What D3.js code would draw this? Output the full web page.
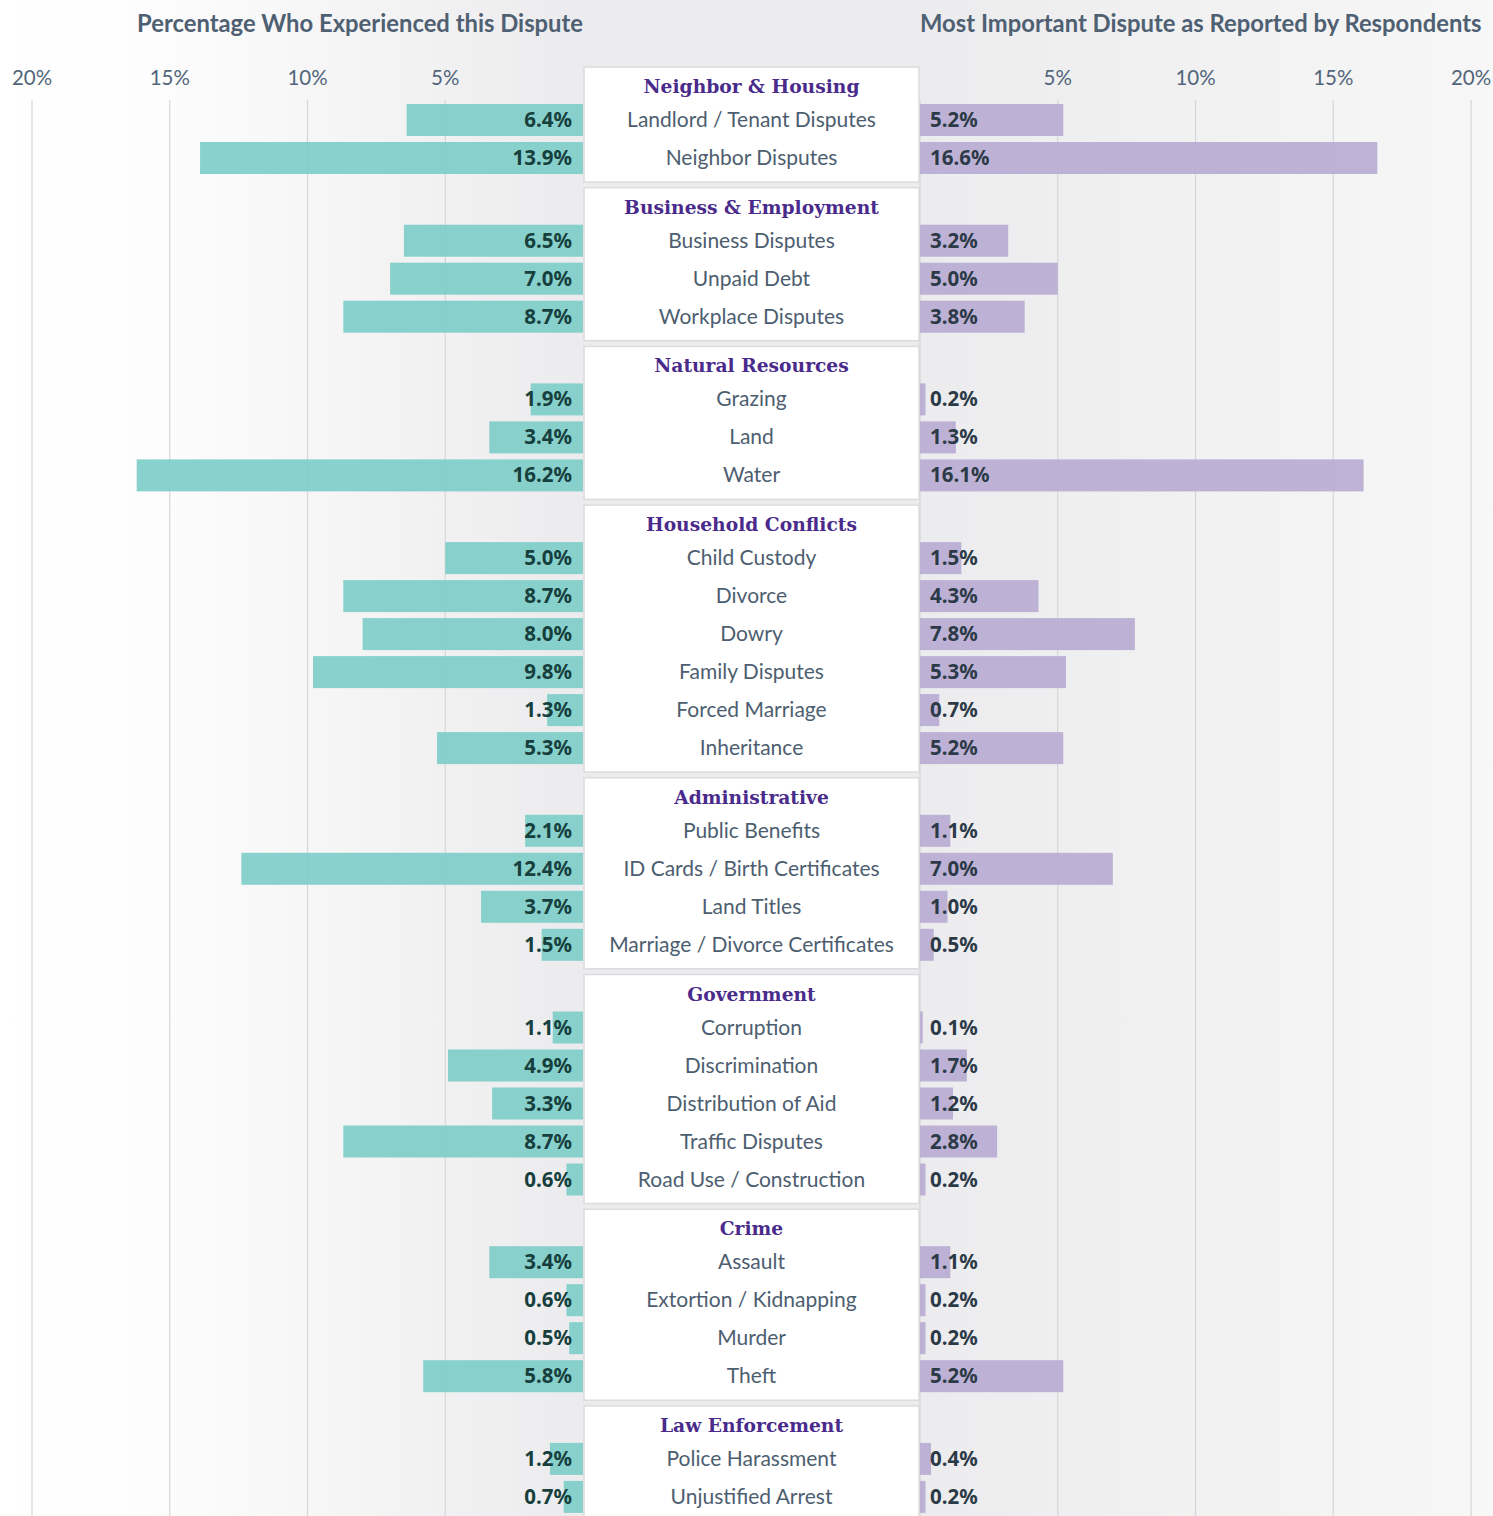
<!DOCTYPE html>
<html>
<head>
<meta charset="utf-8">
<script src="https://cdn.jsdelivr.net/npm/d3@7"></script>
<style>
  body { margin: 0; background: #fff; }
  svg { display: block; }
</style>
</head>
<body>
<svg id="chart"></svg>
<script>
// Groups and their categories
const groups = ["Neighbor & Housing", "Business & Employment", "Natural Resources", "Household Conflicts",
    "Administrative", "Government", "Crime", "Law Enforcement"];
const categories = [
    ["Landlord / Tenant Disputes", "Neighbor Disputes"],
    ["Business Disputes", "Unpaid Debt", "Workplace Disputes"],
    ["Grazing", "Land", "Water"],
    ["Child Custody", "Divorce", "Dowry", "Family Disputes", "Forced Marriage", "Inheritance"],
    ["Public Benefits", "ID Cards / Birth Certificates", "Land Titles", "Marriage / Divorce Certificates"],
    ["Corruption", "Discrimination", "Distribution of Aid", "Traffic Disputes", "Road Use / Construction"],
    ["Assault", "Extortion / Kidnapping", "Murder", "Theft"],
    ["Police Harassment", "Unjustified Arrest"]
];
// Percentage who experienced this dispute
const experienced = [
    [6.4, 13.9],
    [6.5, 7.0, 8.7],
    [1.9, 3.4, 16.2],
    [5.0, 8.7, 8.0, 9.8, 1.3, 5.3],
    [2.1, 12.4, 3.7, 1.5],
    [1.1, 4.9, 3.3, 8.7, 0.6],
    [3.4, 0.6, 0.5, 5.8],
    [1.2, 0.7]
];
// Most important dispute as reported
const important = [
    [5.2, 16.6],
    [3.2, 5.0, 3.8],
    [0.2, 1.3, 16.1],
    [1.5, 4.3, 7.8, 5.3, 0.7, 5.2],
    [1.1, 7.0, 1.0, 0.5],
    [0.1, 1.7, 1.2, 2.8, 0.2],
    [1.1, 0.2, 0.2, 5.2],
    [0.4, 0.2]
];
const ticks = [5, 10, 15, 20];

const width = 1493, height = 1516;
const boxLeft = 584, boxRight = 919;
const rowH = 38, barH = 32, groupGap = 44.7;

const svg = d3.select("#chart").attr("width", width).attr("height", height);

// background gradient
const defs = svg.append("defs");
const grad = defs.append("linearGradient").attr("id", "bg").attr("x1", 0).attr("x2", 1).attr("y1", 0).attr("y2", 0);
grad.append("stop").attr("offset", "0%").attr("stop-color", "#ffffff");
grad.append("stop").attr("offset", "10%").attr("stop-color", "#fdfdfd");
grad.append("stop").attr("offset", "38%").attr("stop-color", "#ececee");
grad.append("stop").attr("offset", "62%").attr("stop-color", "#ececee");
grad.append("stop").attr("offset", "100%").attr("stop-color", "#f7f7f7");
svg.append("rect").attr("width", width).attr("height", height).attr("fill", "url(#bg)");

var xLeft = d3.scaleLinear().domain([0, 20]).range([583, 32]);
var xRight = d3.scaleLinear().domain([0, 20]).range([920, 1471]);

// layout of groups and rows
const layout = [];
let boxTop = 67;
groups.forEach((g, gi) => {
    const n = categories[gi].length;
    const rows = categories[gi].map((c, i) => ({
        name: c, y: boxTop + 53 + i * rowH, left: experienced[gi][i], right: important[gi][i]
    }));
    layout.push({ name: g, top: boxTop, bottom: boxTop + 39 + n * rowH, rows: rows });
    boxTop += groupGap + n * rowH;
});
const allRows = layout.flatMap(d => d.rows);

// grid lines
svg.append("g").selectAll("line")
    .data(ticks)
    .enter().append("line")
    .attr("x1", d => xLeft(d)).attr("x2", d => xLeft(d))
    .attr("y1", 100).attr("y2", height)
    .attr("stroke", "#d6d6d8").attr("stroke-width", 1.2);
svg.append("g").selectAll("line")
    .data([0].concat(ticks))
    .enter().append("line")
    .attr("x1", d => xRight(d)).attr("x2", d => xRight(d))
    .attr("y1", 100).attr("y2", height)
    .attr("stroke", "#d6d6d8").attr("stroke-width", 1.2);

// tick labels
const tickStyle = sel => sel.attr("y", 85).attr("text-anchor", "middle")
    .style("font-family", "Lato, 'Open Sans', sans-serif").style("font-size", "20.5px").style("fill", "#52657a");
svg.append("g").selectAll("text").data(ticks).enter().append("text")
    .attr("x", d => xLeft(d)).call(tickStyle).text(d => d + "%");
svg.append("g").selectAll("text").data(ticks).enter().append("text")
    .attr("x", d => xRight(d)).call(tickStyle).text(d => d + "%");

// titles
svg.append("text").attr("x", 583).attr("y", 32).attr("text-anchor", "end")
    .style("font-family", "Lato, sans-serif").style("font-weight", "bold").style("font-size", "23.8px")
    .style("fill", "#4e6072").text("Percentage Who Experienced this Dispute");
svg.append("text").attr("x", 920).attr("y", 32).attr("text-anchor", "start")
    .style("font-family", "Lato, sans-serif").style("font-weight", "bold").style("font-size", "23.8px")
    .style("fill", "#4e6072").text("Most Important Dispute as Reported by Respondents");

// bars
svg.append("g").selectAll("rect")
    .data(allRows).enter().append("rect")
    .attr("x", d => xLeft(d.left)).attr("y", d => d.y - barH / 2)
    .attr("width", d => xLeft(0) - xLeft(d.left)).attr("height", barH)
    .attr("fill", "#7fcdc8").attr("fill-opacity", 0.92);
svg.append("g").selectAll("rect")
    .data(allRows).enter().append("rect")
    .attr("x", xRight(0)).attr("y", d => d.y - barH / 2)
    .attr("width", d => xRight(d.right) - xRight(0)).attr("height", barH)
    .attr("fill", "#b9acd2").attr("fill-opacity", 0.92);

// center boxes
svg.append("g").selectAll("rect")
    .data(layout).enter().append("rect")
    .attr("x", boxLeft).attr("y", d => d.top)
    .attr("width", boxRight - boxLeft).attr("height", d => d.bottom - d.top)
    .attr("fill", "#ffffff").attr("stroke", "#dcdcde").attr("stroke-width", 1.5);

// group headers
svg.append("g").selectAll("text")
    .data(layout).enter().append("text")
    .attr("x", (boxLeft + boxRight) / 2).attr("y", d => d.top + 26)
    .attr("text-anchor", "middle")
    .style("font-family", "'DejaVu Serif', serif").style("font-weight", "bold").style("font-size", "18.7px")
    .style("fill", "#4a2b8c").text(d => d.name);

// category names
svg.append("g").selectAll("text")
    .data(allRows).enter().append("text")
    .attr("x", (boxLeft + boxRight) / 2).attr("y", d => d.y + 7)
    .attr("text-anchor", "middle")
    .style("font-family", "Lato, sans-serif").style("font-size", "21px")
    .style("fill", "#4d5e70").text(d => d.name);

// value labels
svg.append("g").selectAll("text")
    .data(allRows).enter().append("text")
    .attr("x", 572).attr("y", d => d.y + 7)
    .attr("text-anchor", "end")
    .style("font-family", "'Noto Sans', sans-serif").style("font-weight", "bold").style("font-size", "20.5px")
    .style("fill", "#163f3d").text(d => d.left.toFixed(1) + "%");
svg.append("g").selectAll("text")
    .data(allRows).enter().append("text")
    .attr("x", 930).attr("y", d => d.y + 7)
    .attr("text-anchor", "start")
    .style("font-family", "'Noto Sans', sans-serif").style("font-weight", "bold").style("font-size", "20.5px")
    .style("fill", "#2c3a47").text(d => d.right.toFixed(1) + "%");
</script>
</body>
</html>
